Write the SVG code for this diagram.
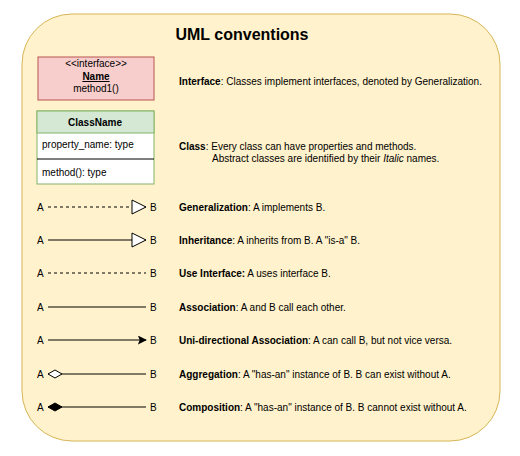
<svg xmlns="http://www.w3.org/2000/svg" width="520" height="456" viewBox="0 0 520 456">
<style>
text{font-family:"Liberation Sans",Arial,sans-serif;font-size:10px;fill:#000}
.b{font-weight:bold}
.ln{stroke:#000;stroke-width:1;fill:none}
.d{stroke-dasharray:3,3}
</style>
<defs>
<marker id="tri" viewBox="0 0 16 16" refX="15" refY="8" markerWidth="16" markerHeight="16" markerUnits="userSpaceOnUse" orient="auto"><path d="M1,1 L15,8 L1,15 Z" fill="#fff" stroke="#000"/></marker>
<marker id="arr" viewBox="0 0 10 10" refX="9" refY="5" markerWidth="9" markerHeight="9" markerUnits="userSpaceOnUse" orient="auto"><path d="M0,0 L10,5 L0,10 L2,5 Z" fill="#000"/></marker>
<marker id="dia" viewBox="0 0 16 10" refX="1" refY="5" markerWidth="16" markerHeight="10" markerUnits="userSpaceOnUse" orient="auto"><path d="M1,5 L8,1 L15,5 L8,9 Z" fill="#fff" stroke="#000"/></marker>
<marker id="diaf" viewBox="0 0 16 10" refX="1" refY="5" markerWidth="16" markerHeight="10" markerUnits="userSpaceOnUse" orient="auto"><path d="M1,5 L8,1 L15,5 L8,9 Z" fill="#000" stroke="#000"/></marker>
</defs>
<rect x="22" y="14" width="478" height="427" rx="50" fill="#fff2cc" stroke="#d6b656"/>
<text x="242" y="40" text-anchor="middle" class="b" style="font-size:16px">UML conventions</text>
<g id="interface">
<rect x="38" y="57" width="116" height="43" fill="#f8cecc" stroke="#b85450"/>
<text x="96" y="67" text-anchor="middle">&lt;&lt;interface&gt;&gt;</text>
<text x="96" y="80" text-anchor="middle" class="b" text-decoration="underline">Name</text>
<text x="96" y="92" text-anchor="middle">method1()</text>
</g>
<g id="class">
<rect x="37" y="111" width="117" height="73" fill="#fff" stroke="#82b366"/>
<rect x="37" y="111" width="117" height="22" fill="#d5e8d4" stroke="#82b366"/>
<line x1="37" y1="159" x2="154" y2="159" stroke="#000"/>
<text x="95" y="126" text-anchor="middle" class="b">ClassName</text>
<text x="42" y="148">property_name: type</text>
<text x="42" y="176">method(): type</text>
</g>
<g id="labels">
<text x="37" y="211">A</text><text x="150" y="211">B</text>
<text x="37" y="244">A</text><text x="150" y="244">B</text>
<text x="37" y="277">A</text><text x="150" y="277">B</text>
<text x="37" y="311">A</text><text x="150" y="311">B</text>
<text x="37" y="344">A</text><text x="150" y="344">B</text>
<text x="37" y="378">A</text><text x="150" y="378">B</text>
<text x="37" y="411">A</text><text x="150" y="411">B</text>
</g>
<g id="connectors">
<line class="ln d" x1="48" y1="207" x2="146" y2="207" marker-end="url(#tri)"/>
<line class="ln" x1="48" y1="240" x2="146" y2="240" marker-end="url(#tri)"/>
<line class="ln d" x1="48" y1="273" x2="146" y2="273"/>
<line class="ln" x1="48" y1="307" x2="146" y2="307"/>
<line class="ln" x1="48" y1="340" x2="146" y2="340" marker-end="url(#arr)"/>
<line class="ln" x1="48" y1="374" x2="146" y2="374" marker-start="url(#dia)"/>
<line class="ln" x1="48" y1="407" x2="146" y2="407" marker-start="url(#diaf)"/>
</g>
<g id="descriptions">
<text x="179" y="85"><tspan class="b">Interface</tspan>: Classes implement interfaces, denoted by Generalization.</text>
<text x="179" y="150"><tspan class="b">Class</tspan>: Every class can have properties and methods.</text>
<text x="212" y="162">Abstract classes are identified by their <tspan font-style="italic">Italic</tspan> names.</text>
<text x="179" y="211"><tspan class="b">Generalization</tspan>: A implements B.</text>
<text x="179" y="244"><tspan class="b">Inheritance</tspan>: A inherits from B. A "is-a" B.</text>
<text x="179" y="277"><tspan class="b">Use Interface:</tspan> A uses interface B.</text>
<text x="179" y="311"><tspan class="b">Association</tspan>: A and B call each other.</text>
<text x="179" y="344"><tspan class="b">Uni-directional Association</tspan>: A can call B, but not vice versa.</text>
<text x="179" y="378"><tspan class="b">Aggregation</tspan>: A "has-an" instance of B. B can exist without A.</text>
<text x="179" y="411"><tspan class="b">Composition</tspan>: A "has-an" instance of B. B cannot exist without A.</text>
</g>
</svg>
